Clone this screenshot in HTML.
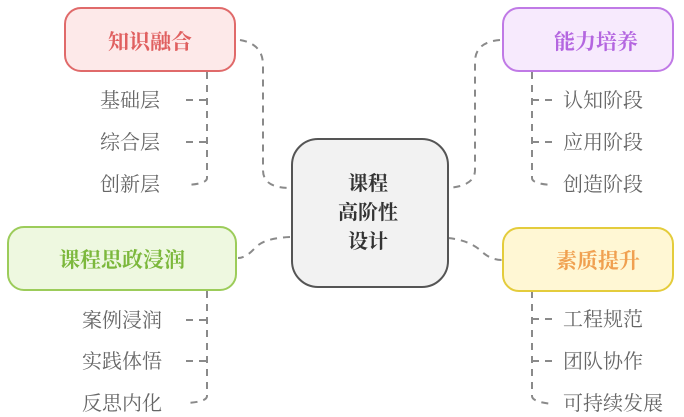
<!DOCTYPE html>
<html><head><meta charset="utf-8"><style>
html,body{margin:0;padding:0;background:#fff;width:684px;height:417px;overflow:hidden}
svg text{font-family:"Liberation Serif","Noto Serif CJK SC","Noto Sans CJK SC",serif}
</style></head><body>
<svg width="684" height="417" viewBox="0 0 684 417" xmlns="http://www.w3.org/2000/svg">
<g fill="none" stroke="#8a8a8a" stroke-width="2" stroke-dasharray="7,6">
<!-- 知识融合 -->
<path d="M240 40 Q263 44 263 65 L263 170 Q263 188 290 188"/>
<path d="M207 72 L207 178 Q207 184 186 185"/>
<path d="M186 100 L207 100"/><path d="M186 142 L207 142"/>
<!-- 能力培养 -->
<path d="M500 40 Q475 42 475 62 L475 170 Q475 186 448 188"/>
<path d="M532 72 L532 178 Q532 184 553 185"/>
<path d="M532 100 L553 100"/><path d="M532 142 L553 142"/>
<!-- 课程思政 -->
<path d="M290 237 Q264 238 255 248 Q246 258 238 258"/>
<path d="M207 291 L207 396 Q207 402 186 403"/>
<path d="M186 320 L207 320"/><path d="M186 361 L207 361"/>
<!-- 素质提升 -->
<path d="M448 238 Q468 240 480 250 Q490 260 502 260"/>
<path d="M532 291 L532 396 Q532 402 553 404"/>
<path d="M532 319 L553 319"/><path d="M532 361 L553 361"/>
</g>
<rect x="65" y="8" width="170" height="63" rx="16" fill="#fde9e9" stroke="#e06a6a" stroke-width="2"/>
<text x="150" y="49" font-size="21" font-weight="bold" fill="#e06060" text-anchor="middle">知识融合</text>
<rect x="503" y="8" width="170" height="63" rx="16" fill="#f7eafd" stroke="#c07ae6" stroke-width="2"/>
<text x="596" y="49" font-size="21" font-weight="bold" fill="#b466e0" text-anchor="middle">能力培养</text>
<rect x="8" y="227" width="228" height="63" rx="16" fill="#eef8e0" stroke="#9ccc5a" stroke-width="2"/>
<text x="122" y="267" font-size="21" font-weight="bold" fill="#7cb83c" text-anchor="middle">课程思政浸润</text>
<rect x="503" y="228" width="170" height="63" rx="16" fill="#fff7d4" stroke="#e4cc3c" stroke-width="2"/>
<text x="598" y="268" font-size="21" font-weight="bold" fill="#f0a050" text-anchor="middle">素质提升</text>
<rect x="292" y="139" width="156" height="148" rx="26" fill="#f2f2f2" stroke="#555" stroke-width="2"/>
<g font-size="20" font-weight="bold" fill="#333" text-anchor="middle">
<text x="368" y="190">课程</text><text x="368" y="219">高阶性</text><text x="368" y="248">设计</text>
</g>
<g font-size="20" fill="#666">
<text x="100" y="107">基础层</text><text x="100" y="149">综合层</text><text x="100" y="191">创新层</text>
<text x="563" y="107">认知阶段</text><text x="563" y="149">应用阶段</text><text x="563" y="191">创造阶段</text>
<text x="82" y="327">案例浸润</text><text x="82" y="368">实践体悟</text><text x="82" y="410">反思内化</text>
<text x="563" y="326">工程规范</text><text x="563" y="368">团队协作</text><text x="563" y="410">可持续发展</text>
</g>
</svg>
</body></html>
